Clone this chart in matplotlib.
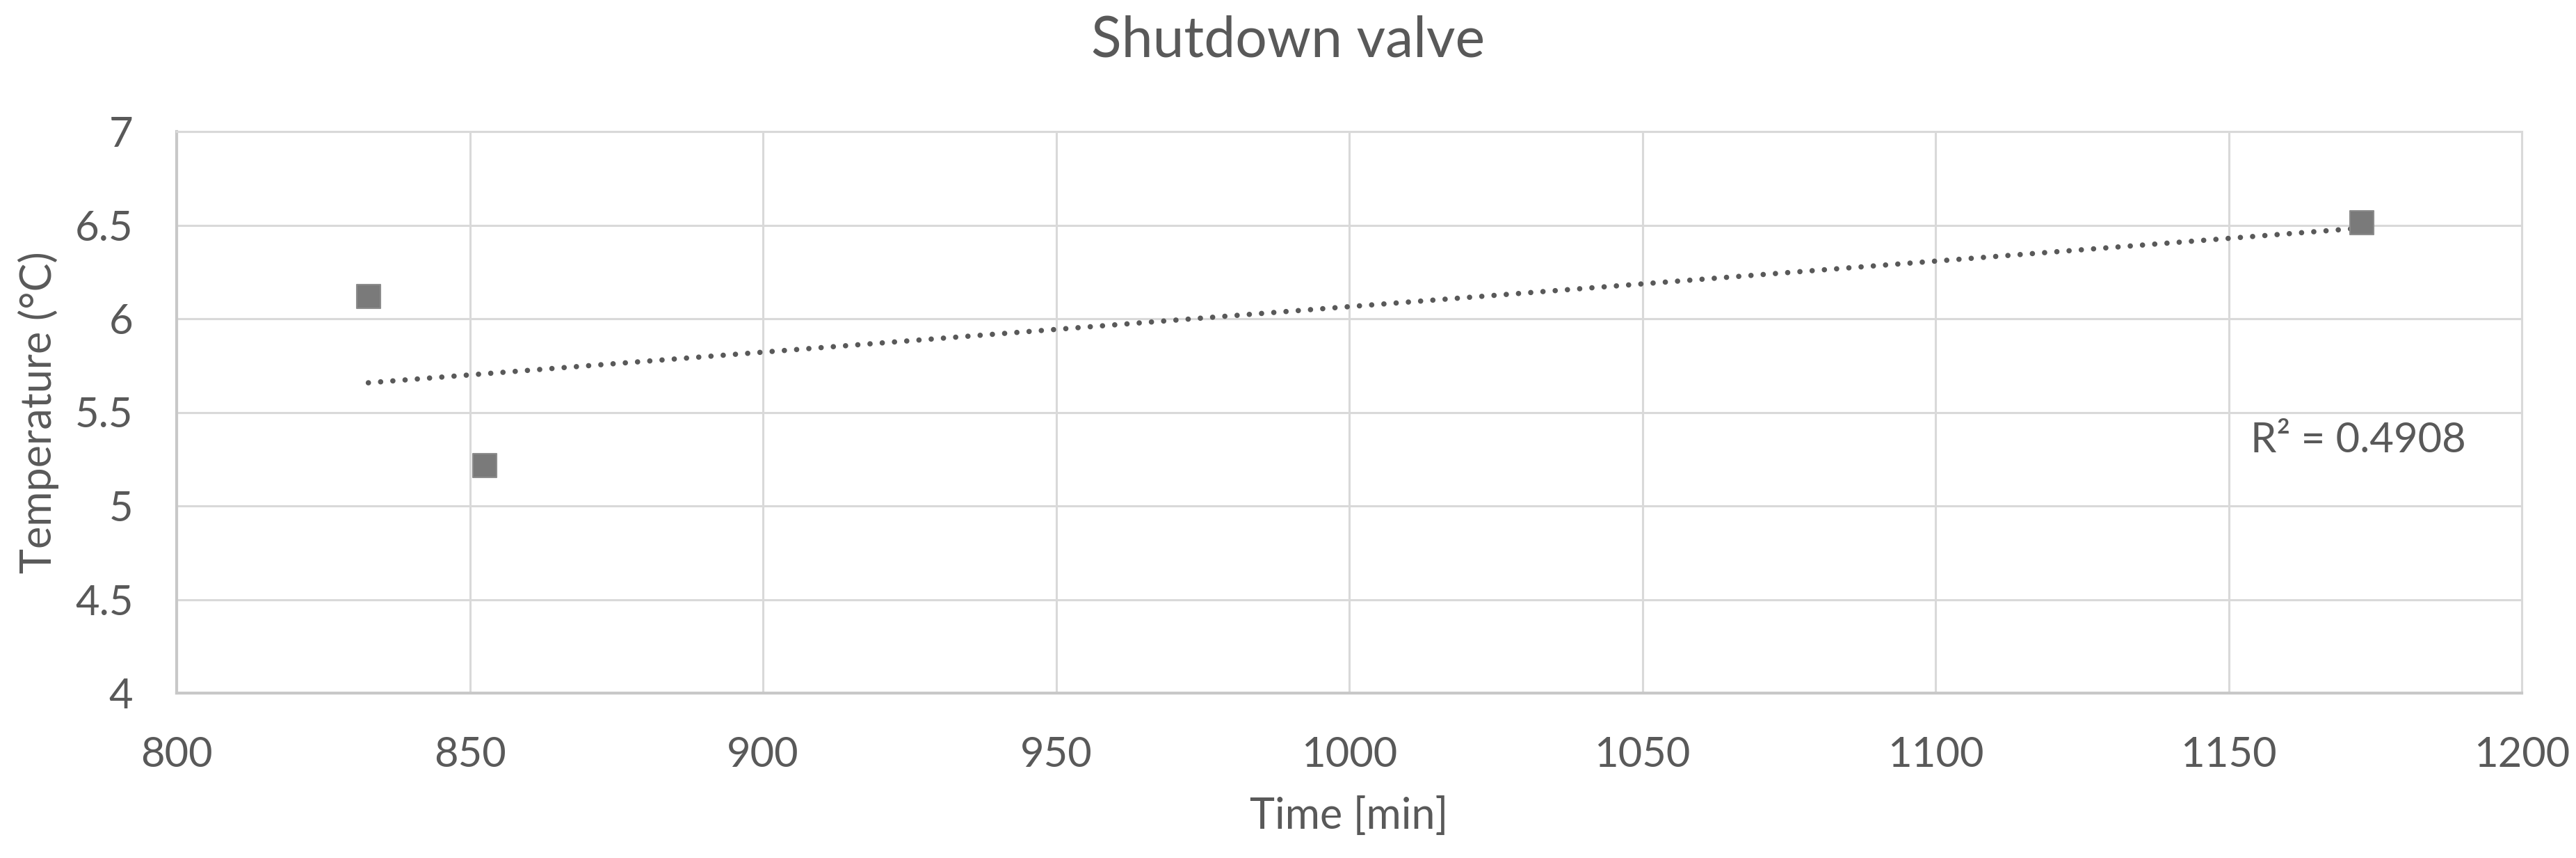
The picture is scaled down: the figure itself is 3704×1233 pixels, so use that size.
import numpy as np
import matplotlib
matplotlib.use("Agg")
import matplotlib.pyplot as plt

# data
time_min = [832.7, 852.5, 1172.7]
temperature = [6.12, 5.215, 6.513]
r2_label = "R² = 0.4908"

x_ticks = [800, 850, 900, 950, 1000, 1050, 1100, 1150, 1200]
y_ticks = [4, 4.5, 5, 5.5, 6, 6.5, 7]

plt.rcParams['font.family'] = ['Lato', 'DejaVu Sans']
text_col = '#595959'
grid_col = '#d9d9d9'

fig = plt.figure(figsize=(37.05, 12.33), dpi=100)
ax = fig.add_axes([254/3705, 1 - 996/1233, (3626-254)/3705, (996-189)/1233])

# linear trendline over the data range
slope, intercept = np.polyfit(time_min, temperature, 1)
tx = np.array([min(time_min), max(time_min)])
ax.plot(tx, slope*tx + intercept, color='#595959', lw=5.5,
        dashes=(0.01, 2.3), dash_capstyle='round', zorder=3)

ax.scatter(time_min, temperature, marker='s', s=24**2, color='#7a7a7a',
           edgecolor='#8c8c8c', linewidth=1.5, zorder=4)

ax.text(1153.7, 5.35, r2_label, fontsize=43, color=text_col, va='center', ha='left')

ax.set_xlim(800, 1200)
ax.set_ylim(4, 7)
ax.set_xticks(x_ticks)
ax.set_yticks(y_ticks)
ax.set_yticklabels([f"{v:g}" for v in y_ticks])
ax.tick_params(length=0, labelsize=43, labelcolor=text_col, pad=45)
ax.grid(True, color=grid_col, lw=2.2)
ax.set_axisbelow(True)
for side in ['top', 'right']:
    ax.spines[side].set_color(grid_col)
    ax.spines[side].set_linewidth(2.2)
for side in ['left', 'bottom']:
    ax.spines[side].set_color('#c8c8c8')
    ax.spines[side].set_linewidth(3)

ax.set_xlabel('Time [min]', fontsize=44, color=text_col)
ax.xaxis.set_label_coords(0.5, -0.185)
ax.set_ylabel('Temperature (°C)', fontsize=44, color=text_col)
ax.yaxis.set_label_coords(-0.050, 0.5)

fig.text(0.5, 1 - 22/1233, 'Shutdown valve', fontsize=58, color=text_col,
         ha='center', va='top')

fig.savefig('out.png', dpi=100, facecolor='white')
